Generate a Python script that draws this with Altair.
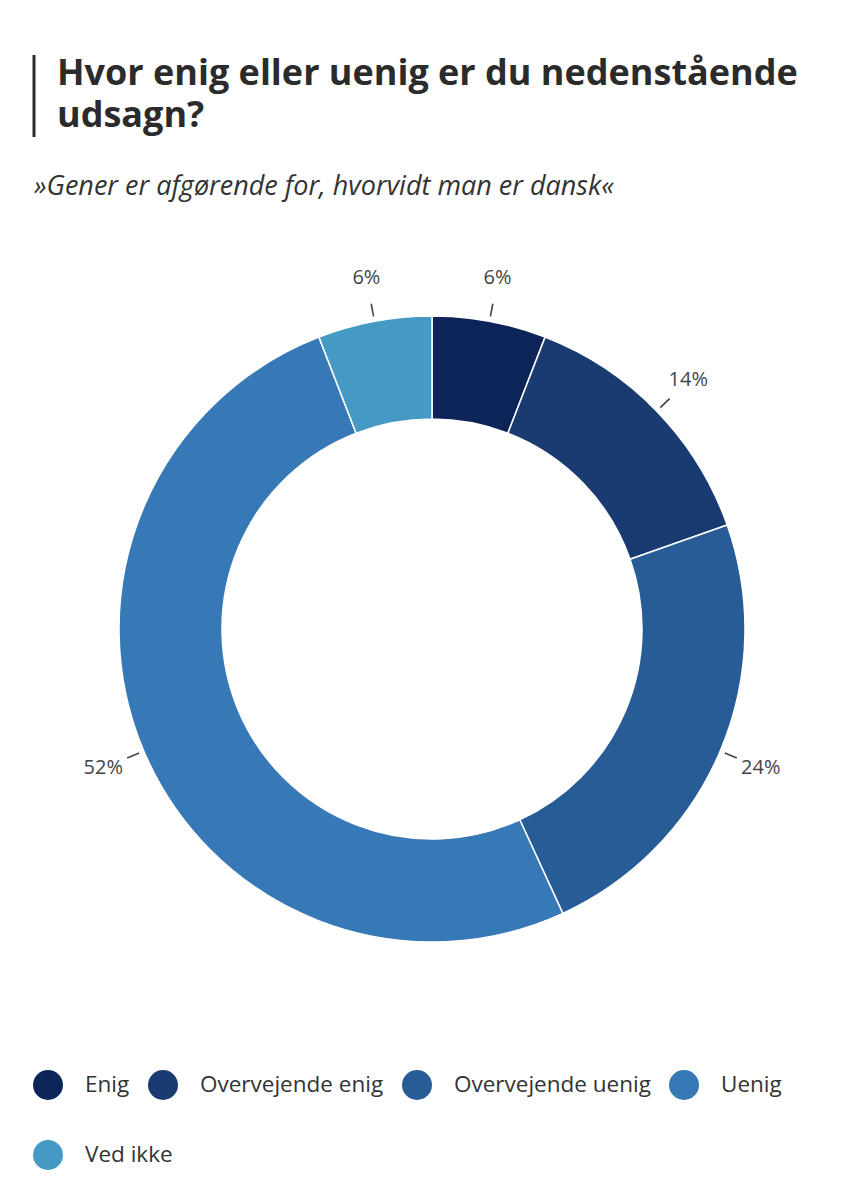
import altair as alt
import pandas as pd

categories = ["Enig", "Overvejende enig", "Overvejende uenig", "Uenig", "Ved ikke"]
values = [6, 14, 24, 52, 6]
colors = ["#0c2458", "#1a3b72", "#275c97", "#3779b6", "#4599c5"]

title_text = "Hvor enig eller uenig er du nedenstående\nudsagn?"
subtitle_text = "»Gener er afgørende for, hvorvidt man er dansk«"

W, H = 847, 1184
CX, CY = 424, 621
R_OUT, R_IN = 313, 210

df = pd.DataFrame({"cat": categories, "val": values, "ord": list(range(len(values)))})

legend_common = dict(
    title=None, orient="none", direction="horizontal",
    columnPadding=18, symbolType="circle", symbolSize=900, symbolStrokeWidth=0,
    symbolOpacity=1, labelFont="Open Sans", labelFontSize=22.5, labelColor="#333333",
    labelOffset=22, labelLimit=400, padding=0,
)

base = alt.Chart(df).transform_window(
    cum="sum(val)", sort=[alt.SortField("ord")]
).transform_joinaggregate(
    total="sum(val)"
).transform_calculate(
    mid="(datum.cum - datum.val/2) / datum.total * 2 * PI",
    label="datum.val + '%'",
).transform_calculate(
    t0="datum.mid - 0.0025",
    t1="datum.mid + 0.0025",
)

arcs = alt.Chart(df).mark_arc(
    innerRadius=R_IN, outerRadius=R_OUT, stroke="white", strokeWidth=1.5
).encode(
    theta=alt.Theta("val:Q", stack=True),
    order=alt.Order("ord:Q"),
    color=alt.Color(
        "cat:N",
        scale=alt.Scale(domain=categories, range=colors),
        legend=alt.Legend(values=categories[:4], legendX=25, legendY=1062, **legend_common),
    ),
    x=alt.value(CX), y=alt.value(CY),
)

# second legend row ("Ved ikke") drawn by an invisible point layer
legend_row2 = alt.Chart(df).transform_filter(
    alt.datum.cat == categories[4]
).mark_point(filled=True, opacity=0).encode(
    fill=alt.Fill(
        "cat:N",
        scale=alt.Scale(domain=categories[4:], range=colors[4:]),
        legend=alt.Legend(legendX=25, legendY=1132, **legend_common),
    ),
    x=alt.value(CX), y=alt.value(CY),
)

ticks = base.mark_arc(color="#444444").encode(
    theta=alt.Theta("t0:Q", scale=None),
    theta2="t1:Q",
    radius=alt.value(331), radius2=alt.value(318),
    x=alt.value(CX), y=alt.value(CY),
)

labels = base.mark_text(
    font="Open Sans", fontSize=20, color="#444444", align="center", baseline="middle"
).encode(
    theta=alt.Theta("mid:Q", scale=None),
    radius=alt.value(357),
    text="label:N",
    x=alt.value(CX), y=alt.value(CY),
)

tdf = pd.DataFrame({"t": [title_text], "s": [subtitle_text]})
title = alt.Chart(tdf).mark_text(
    font="Open Sans", fontWeight="bold", fontSize=36, color="#2b2b2b",
    align="left", baseline="alphabetic", lineBreak="\n", lineHeight=42,
).encode(text="t:N", x=alt.value(49), y=alt.value(77))

subtitle = alt.Chart(tdf).mark_text(
    font="Open Sans", fontStyle="italic", fontSize=27, color="#333333",
    align="left", baseline="alphabetic",
).encode(text="s:N", x=alt.value(26), y=alt.value(187))

bar = alt.Chart(tdf).mark_rule(color="#2b2b2b", strokeWidth=3).encode(
    x=alt.value(26), y=alt.value(47), y2=alt.value(129)
)

chart = alt.layer(legend_row2, arcs, ticks, labels, title, subtitle, bar).properties(
    width=W, height=H, padding=0, autosize=alt.AutoSizeParams(type="none")
).configure_view(stroke=None)

chart.save("out.html", embed_options={"renderer": "svg", "actions": False})
